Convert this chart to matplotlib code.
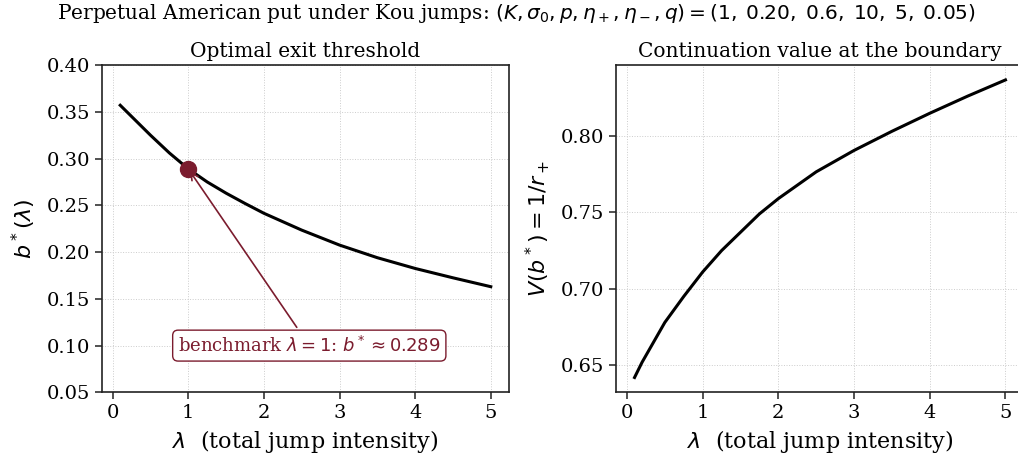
import matplotlib
matplotlib.use("Agg")
import matplotlib.pyplot as plt

plt.rcParams['font.family'] = 'DejaVu Serif'
plt.rcParams['mathtext.fontset'] = 'dejavusans'

# jump intensity grid
lam = [0.1, 0.2, 0.35, 0.5, 0.75, 1.0, 1.25, 1.5, 1.75, 2.0, 2.5, 3.0, 3.5, 4.0, 4.5, 5.0]

# optimal exit threshold b*(lambda)
b_star = [0.357, 0.349, 0.337, 0.325, 0.306, 0.289, 0.275, 0.263, 0.252, 0.2415,
          0.2235, 0.2075, 0.194, 0.1825, 0.1725, 0.163]

# continuation value at the boundary V(b*) = 1/r+
v_boundary = [0.642, 0.652, 0.665, 0.678, 0.695, 0.711, 0.725, 0.737, 0.749, 0.759,
              0.7765, 0.7905, 0.803, 0.8148, 0.826, 0.8366]

bench_lam = 1.0
bench_b = 0.289

maroon = '#7b1c2e'

fig = plt.figure(figsize=(10.18, 4.66), dpi=100)
ax1 = fig.add_axes([0.0999, 0.158, 0.4004, 0.7024])
ax2 = fig.add_axes([0.6051, 0.158, 0.4008, 0.7024])

for ax in (ax1, ax2):
    ax.grid(True, linestyle=':', color='#cccccc', linewidth=0.7)
    ax.tick_params(labelsize=14, length=5, width=1.1, color='#222222')
    for sp in ax.spines.values():
        sp.set_color('#222222')
        sp.set_linewidth(1.2)
    ax.set_xlabel(r'$\lambda$  (total jump intensity)', fontsize=16)
    ax.set_xticks([0, 1, 2, 3, 4, 5])

# left panel
ax1.plot(lam, b_star, color='black', lw=2.2)
ax1.plot([bench_lam], [bench_b], 'o', color=maroon, ms=11.5, zorder=5)
ax1.annotate(r'benchmark $\lambda = 1$: $b^* \approx 0.289$',
             xy=(bench_lam, bench_b), xytext=(2.6, 0.10),
             ha='center', va='center', fontsize=13, color=maroon,
             bbox=dict(boxstyle='round,pad=0.3', fc='white', ec=maroon, lw=1.0),
             arrowprops=dict(arrowstyle='->', color=maroon, lw=1.2))
ax1.set_ylim(0.05, 0.40)
ax1.set_xlim(-0.145, 5.245)
ax1.set_ylabel(r'$b^*(\lambda)$', fontsize=16, labelpad=6)
ax1.set_title('Optimal exit threshold', fontsize=14.5)

# right panel
ax2.plot(lam, v_boundary, color='black', lw=2.2)
ax2.set_xlim(-0.145, 5.245)
ax2.set_yticks([0.65, 0.70, 0.75, 0.80])
ax2.set_ylabel(r'$V(b^*) = 1/r_+$', fontsize=16, labelpad=6)
ax2.set_title('Continuation value at the boundary', fontsize=14.5)

fig.suptitle(r'Perpetual American put under Kou jumps: '
             r'$(K, \sigma_0, p, \eta_+, \eta_-, q) = (1,\;0.20,\;0.6,\;10,\;5,\;0.05)$',
             fontsize=14.5, x=0.507, y=0.995)

fig.savefig('out.png', dpi=100)
